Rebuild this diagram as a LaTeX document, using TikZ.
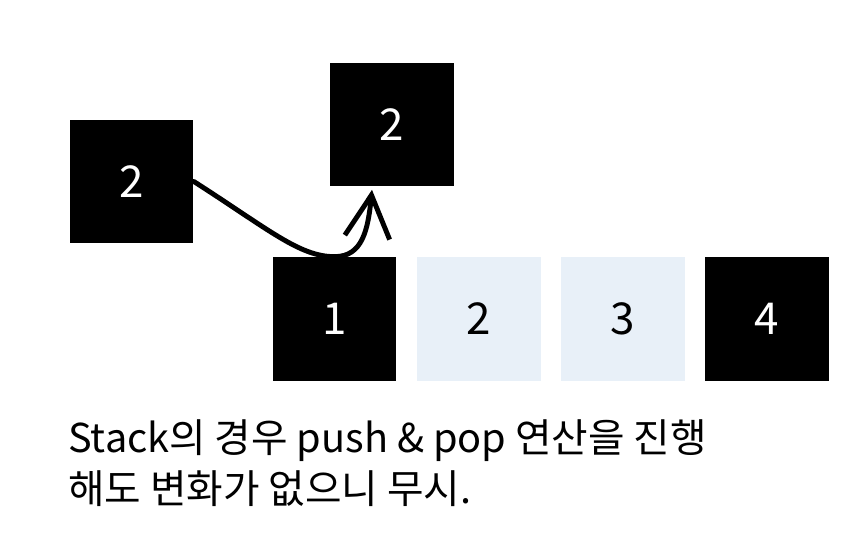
\documentclass[tikz,border=0pt]{standalone}
\usepackage{fontspec}
\setmainfont{Noto Sans CJK KR}
\usepackage{tikz}
\usetikzlibrary{calc}
\usetikzlibrary{arrows.meta}
\usetikzlibrary{positioning}
\definecolor{coal}{RGB}{0, 0, 0}
\definecolor{cloud}{RGB}{232, 240, 248}
\tikzset{
  cell/.style={minimum size=2.48cm, inner sep=0pt, font=\fontsize{25}{30}\selectfont},
  fullcell/.style={cell, fill=coal, text=white},
  emptycell/.style={cell, fill=cloud, text=black},
  caption/.style={anchor=base west, inner sep=0pt, font=\fontsize{22.6}{28}\selectfont}
}

\begin{document}
\begin{tikzpicture}[x=0.02cm, y=-0.02cm]
            \useasboundingbox (0,0) rectangle (866,548);
            \node[fullcell]  (popped) at (131.5, 181.5) {2};
            \node[fullcell]  (pushed) at (392.0, 124.5) {2};
            \node[fullcell]  (one)    at (334.5, 319.0) {1};
            \node[emptycell, right=0.39cm of one]   (two)   {2};
            \node[emptycell, right=0.39cm of two]   (three) {3};
            \node[fullcell,  right=0.39cm of three] (four)  {4};
            \coordinate (tip) at ($(pushed.south)+(-20,3)$);
            \draw[coal, line width=2.8pt, line cap=round, -{Straight Barb[length=0.85cm, width=0.9cm]}]
                 (popped.east) .. controls +(75,48) and +(-35,0) .. (one.north)
                 .. controls +(28,0) and +(-4,40) .. (tip);
            \node[caption] (line1) at (68, 452) {Stack의 경우 push \& pop 연산을 진행};
            \node[caption] (line2) at (68, 503) {해도 변화가 없으니 무시.};
        \end{tikzpicture}
\end{document}
